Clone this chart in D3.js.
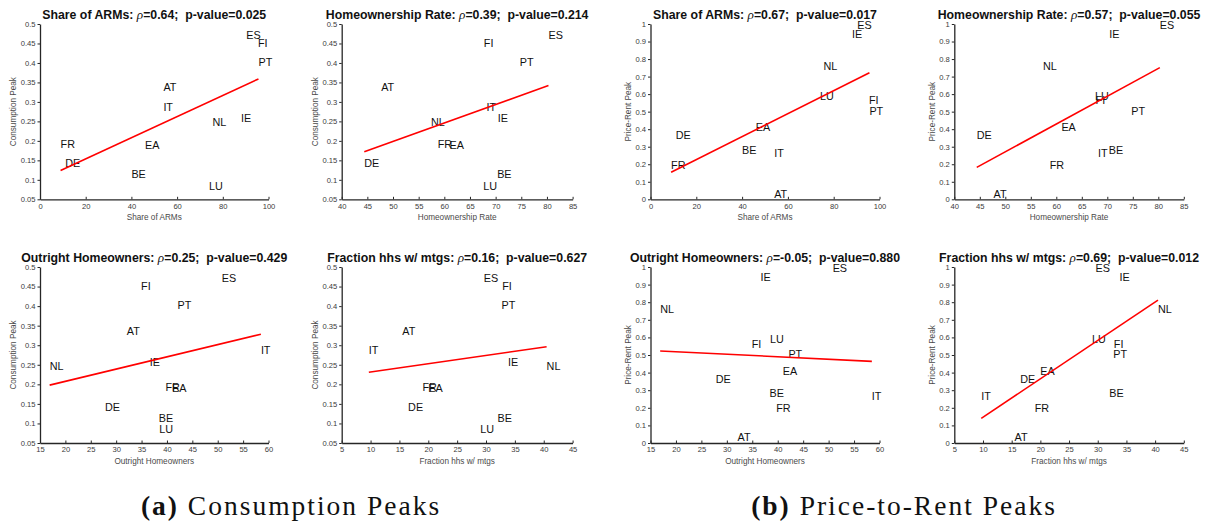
<!DOCTYPE html>
<html>
<head>
<meta charset="utf-8">
<script src="https://cdn.jsdelivr.net/npm/d3@7"></script>
<style>
  body { margin: 0; background: #fff; }
  svg { display: block; }
  .tick text { font-family: "Liberation Sans", Arial, sans-serif; font-size: 7.6px; fill: #3a3a3a; }
  .domain, .tick line { stroke: #262626; }
</style>
</head>
<body>
<div id="chart"></div>
<script>
// countries, in the order used by every series below
const countries = ["AT", "BE", "DE", "EA", "ES", "FI", "FR", "IE", "IT", "LU", "NL", "PT"];

// y series
const consumptionPeak = [0.337, 0.114, 0.143, 0.190, 0.472, 0.452, 0.192, 0.258, 0.287, 0.085, 0.247, 0.402];
const priceRentPeak   = [0.032, 0.283, 0.365, 0.411, 0.995, 0.563, 0.197, 0.943, 0.265, 0.589, 0.762, 0.505];

// x series
const shareARMs          = [54.0, 40.0, 11.0, 46.0, 90.3, 95.4, 9.0, 88.0, 54.0, 74.0, 75.5, 95.6];
const homeownershipRate  = [47.7, 70.3, 44.4, 61.0, 80.3, 67.7, 58.7, 70.4, 68.2, 67.6, 57.4, 74.7];
const outrightHomeowners = [32.1, 38.4, 27.8, 41.0, 50.8, 34.9, 39.7, 36.6, 58.5, 38.5, 16.9, 42.1];
const fractionMtgs       = [15.5, 32.0, 16.5, 20.0, 29.6, 32.8, 19.0, 33.8, 9.7, 29.0, 40.5, 32.7];

// tick values
const ticksARMs     = [0, 20, 40, 60, 80, 100];
const ticksHome     = [40, 45, 50, 55, 60, 65, 70, 75, 80, 85];
const ticksOutright = [15, 20, 25, 30, 35, 40, 45, 50, 55, 60];
const ticksMtgs     = [5, 10, 15, 20, 25, 30, 35, 40, 45];
const ticksCons     = [0.05, 0.1, 0.15, 0.2, 0.25, 0.3, 0.35, 0.4, 0.45, 0.5];
const ticksPR       = [0, 0.1, 0.2, 0.3, 0.4, 0.5, 0.6, 0.7, 0.8, 0.9, 1];

// correlation stats per panel
const rhos    = ["0.64", "0.39", "0.67", "0.57", "0.25", "0.16", "-0.05", "0.69"];
const pvalues = ["0.025", "0.214", "0.017", "0.055", "0.429", "0.627", "0.880", "0.012"];

// fitted line: y value at min x and at max x
const fitStart = [0.124, 0.172, 0.154, 0.182, 0.198, 0.231, 0.523, 0.140];
const fitEnd   = [0.359, 0.342, 0.722, 0.751, 0.328, 0.296, 0.464, 0.812];

const captions = ["Consumption Peaks", "Price-to-Rent Peaks"];
const captionTags = ["(a)", "(b)"];

const width = 1209, height = 522;
const sans = '"Liberation Sans", Arial, Helvetica, sans-serif';

// layout of the axes boxes
const colX = [[40, 268.5], [341.7, 572.6], [650.5, 879.5], [954.3, 1183.8]];
const rowY = [[24, 199.3], [267, 443]];

const panels = [
    {col: 0, row: 0, xs: shareARMs, ys: consumptionPeak, xName: "Share of ARMs", yName: "Consumption Peak", xt: ticksARMs, yt: ticksCons},
    {col: 1, row: 0, xs: homeownershipRate, ys: consumptionPeak, xName: "Homeownership Rate", yName: "Consumption Peak", xt: ticksHome, yt: ticksCons},
    {col: 2, row: 0, xs: shareARMs, ys: priceRentPeak, xName: "Share of ARMs", yName: "Price-Rent Peak", xt: ticksARMs, yt: ticksPR},
    {col: 3, row: 0, xs: homeownershipRate, ys: priceRentPeak, xName: "Homeownership Rate", yName: "Price-Rent Peak", xt: ticksHome, yt: ticksPR},
    {col: 0, row: 1, xs: outrightHomeowners, ys: consumptionPeak, xName: "Outright Homeowners", yName: "Consumption Peak", xt: ticksOutright, yt: ticksCons},
    {col: 1, row: 1, xs: fractionMtgs, ys: consumptionPeak, xName: "Fraction hhs w/ mtgs", yName: "Consumption Peak", xt: ticksMtgs, yt: ticksCons},
    {col: 2, row: 1, xs: outrightHomeowners, ys: priceRentPeak, xName: "Outright Homeowners", yName: "Price-Rent Peak", xt: ticksOutright, yt: ticksPR},
    {col: 3, row: 1, xs: fractionMtgs, ys: priceRentPeak, xName: "Fraction hhs w/ mtgs", yName: "Price-Rent Peak", xt: ticksMtgs, yt: ticksPR}
];

const svg = d3.select("#chart").append("svg")
    .attr("width", width)
    .attr("height", height);

panels.forEach(function(p, i) {
    let [left, right] = colX[p.col];
    let [top, bottom] = rowY[p.row];

    let x = d3.scaleLinear()
        .domain(d3.extent(p.xt))
        .range([left, right]);
    let y = d3.scaleLinear()
        .domain(d3.extent(p.yt))
        .range([bottom, top]);

    let g = svg.append("g");

    // axes
    g.append("g")
        .attr("transform", "translate(0," + bottom + ")")
        .call(d3.axisBottom(x).tickValues(p.xt).tickFormat(d => d).tickSizeInner(-2.5).tickSizeOuter(0).tickPadding(4))
        .call(a => a.select(".domain").attr("stroke-width", 1.3));
    g.append("g")
        .attr("transform", "translate(" + left + ",0)")
        .call(d3.axisLeft(y).tickValues(p.yt).tickFormat(d => d).tickSizeInner(2.5).tickSizeOuter(0).tickPadding(2))
        .call(a => a.select(".domain").attr("stroke-width", 1.3));
    g.selectAll(".tick line").attr("stroke-width", 1);

    // axis labels
    g.append("text")
        .attr("x", (left + right) / 2)
        .attr("y", bottom + 21)
        .attr("text-anchor", "middle")
        .attr("font-family", sans)
        .attr("font-size", 8.2)
        .attr("fill", "#4a4a4a")
        .text(p.xName);
    let yOff = p.yt === ticksCons ? 24 : 19.5;
    g.append("text")
        .attr("transform", "translate(" + (left - yOff) + "," + ((top + bottom) / 2) + ") rotate(-90)")
        .attr("text-anchor", "middle")
        .attr("font-family", sans)
        .attr("font-size", 8.2)
        .attr("fill", "#4a4a4a")
        .text(p.yName);

    // title
    let title = g.append("text")
        .attr("x", (left + right) / 2)
        .attr("y", top - 5.5)
        .attr("text-anchor", "middle")
        .attr("font-family", sans)
        .attr("font-size", 12.3)
        .attr("font-weight", "bold")
        .attr("fill", "#111")
        .style("white-space", "pre");
    title.append("tspan").text(p.xName + ": ");
    title.append("tspan").attr("font-style", "italic").attr("font-weight", "normal")
        .attr("font-family", '"Liberation Serif", "Times New Roman", serif').attr("font-size", 13.2).text("\u03c1");
    title.append("tspan").text("=" + rhos[i] + ";  p-value=" + pvalues[i]);

    // country labels, left-aligned at the data point
    g.selectAll("text.country")
        .data(countries)
        .enter().append("text")
        .attr("class", "country")
        .attr("x", (d, j) => x(p.xs[j]))
        .attr("y", (d, j) => y(p.ys[j]))
        .attr("dy", "0.36em")
        .attr("font-family", sans)
        .attr("font-size", 10.8)
        .attr("fill", "#111")
        .text(d => d);

    // fitted line
    let xExt = d3.extent(p.xs);
    g.append("line")
        .attr("x1", x(xExt[0]))
        .attr("y1", y(fitStart[i]))
        .attr("x2", x(xExt[1]))
        .attr("y2", y(fitEnd[i]))
        .attr("stroke", "#f00")
        .attr("stroke-width", 1.6);
});

// sub-figure captions
const captionX = [291, 904];
captions.forEach(function(c, i) {
    let t = svg.append("text")
        .attr("x", captionX[i])
        .attr("y", 515)
        .attr("text-anchor", "middle")
        .attr("font-family", '"Liberation Serif", "Times New Roman", serif')
        .attr("font-size", 27.5)
        .attr("letter-spacing", 2)
        .attr("fill", "#111")
        .style("white-space", "pre");
    t.append("tspan").attr("font-weight", "bold").text(captionTags[i]);
    t.append("tspan").text(" " + c);
});
</script>
</body>
</html>
